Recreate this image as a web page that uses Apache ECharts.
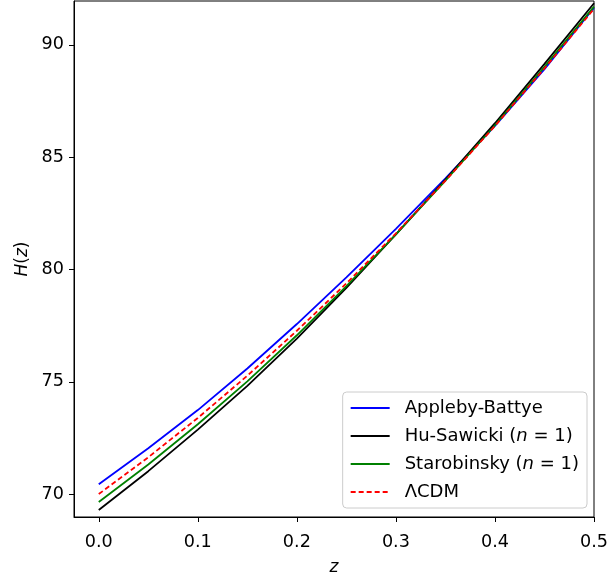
<!DOCTYPE html>
<html>
<head>
<meta charset="utf-8">
<script src="https://cdn.jsdelivr.net/npm/echarts@6/dist/echarts.min.js"></script>
<style>
html,body{margin:0;padding:0;background:#fff;}
#chart{width:611px;height:581px;}
</style>
</head>
<body>
<div id="chart"></div>
<script>
const zValues = [0.00, 0.05, 0.10, 0.15, 0.20, 0.25, 0.30, 0.35, 0.40, 0.45, 0.50];
const applebyBattye = [70.44, 72.04, 73.74, 75.59, 77.57, 79.65, 81.81, 84.05, 86.39, 88.92, 91.65];
const huSawicki     = [69.29, 71.02, 72.87, 74.82, 76.92, 79.18, 81.56, 84.00, 86.51, 89.15, 91.85];
const starobinsky   = [69.65, 71.32, 73.11, 75.02, 77.07, 79.26, 81.56, 83.95, 86.42, 89.02, 91.70];
const lcdm          = [70.00, 71.64, 73.39, 75.27, 77.27, 79.38, 81.61, 83.95, 86.39, 88.95, 91.60];
const xTicks = [0.0, 0.1, 0.2, 0.3, 0.4, 0.5];
const yTicks = [70, 75, 80, 85, 90];
const seriesNames = ['Appleby-Battye', 'Hu-Sawicki (n = 1)', 'Starobinsky (n = 1)', 'ΛCDM'];

const FONT = 'DejaVu Sans';
const pair = (ys) => zValues.map((z, i) => [z, ys[i]]);

const chart = echarts.init(document.getElementById('chart'), null, {renderer: 'canvas'});
const legendLabels = {
  'Appleby-Battye': 'Appleby-Battye',
  'Hu-Sawicki (n = 1)': 'Hu-Sawicki ({i|n}{t| = 1)}',
  'Starobinsky (n = 1)': 'Starobinsky ({i|n}{t| = 1)}',
  'ΛCDM': 'ΛCDM'
};
const option = {
  animation: false,
  backgroundColor: '#fff',
  grid: {left: 74, right: 14, top: 1, bottom: 63, show: true, borderColor: '#000', borderWidth: 1, containLabel: false},
  xAxis: {
    type: 'value', min: -0.025, max: 0.5,
    name: 'z', nameLocation: 'middle', nameGap: 42,
    nameTextStyle: {fontFamily: FONT, fontSize: 17, fontStyle: 'italic', color: '#000'},
    axisLine: {show: true, onZero: false, lineStyle: {color: '#000', width: 1}},
    axisTick: {show: true, inside: false, length: 5, customValues: xTicks, lineStyle: {color: '#000', width: 1}},
    axisLabel: {customValues: xTicks, margin: 16, fontFamily: FONT, fontSize: 17.6, color: '#000',
      formatter: v => v.toFixed(1)},
    splitLine: {show: false}
  },
  yAxis: {
    type: 'value', min: 68.98, max: 91.95,
    name: '{i|H}({i|z})', nameLocation: 'middle', nameGap: 43, nameRotate: 90,
    nameTextStyle: {fontFamily: FONT, fontSize: 17, color: '#000',
      rich: {i: {fontFamily: FONT, fontSize: 17, fontStyle: 'italic', color: '#000'}}},
    axisLine: {show: true, onZero: false, lineStyle: {color: '#000', width: 1}},
    axisTick: {show: true, inside: false, length: 5, customValues: yTicks, lineStyle: {color: '#000', width: 1}},
    axisLabel: {customValues: yTicks, margin: 10, fontFamily: FONT, fontSize: 17.6, color: '#000'},
    splitLine: {show: false}
  },
  legend: {
    orient: 'vertical', right: 24, bottom: 73,
    backgroundColor: 'rgba(255,255,255,0.8)', borderColor: '#ccc', borderWidth: 1, borderRadius: 4,
    padding: [7, 8, 7, 7], itemWidth: 39, itemHeight: 14, itemGap: 10,
    itemStyle: {opacity: 0},
    textStyle: {fontFamily: FONT, fontSize: 18, color: '#000', padding: [0, 0, 0, 10],
      rich: {i: {fontFamily: FONT, fontSize: 18, fontStyle: 'italic', color: '#000'},
             t: {fontFamily: FONT, fontSize: 18, color: '#000'}}},
    formatter: name => legendLabels[name],
    data: seriesNames
  },
  series: [
    {name: seriesNames[0], type: 'line', data: pair(applebyBattye), showSymbol: false, symbol: 'none',
      lineStyle: {color: '#0000ff', width: 1.8}, itemStyle: {color: '#0000ff'}, z: 2},
    {name: seriesNames[1], type: 'line', data: pair(huSawicki), showSymbol: false, symbol: 'none',
      lineStyle: {color: '#000000', width: 1.8}, itemStyle: {color: '#000000'}, z: 3},
    {name: seriesNames[2], type: 'line', data: pair(starobinsky), showSymbol: false, symbol: 'none',
      lineStyle: {color: '#008000', width: 1.8}, itemStyle: {color: '#008000'}, z: 4},
    {name: seriesNames[3], type: 'line', data: pair(lcdm), showSymbol: false, symbol: 'none',
      lineStyle: {color: '#ff0000', width: 1.8, type: [5, 3]}, itemStyle: {color: '#ff0000'}, z: 5}
  ]
};
chart.setOption(option);
</script>
</body>
</html>
